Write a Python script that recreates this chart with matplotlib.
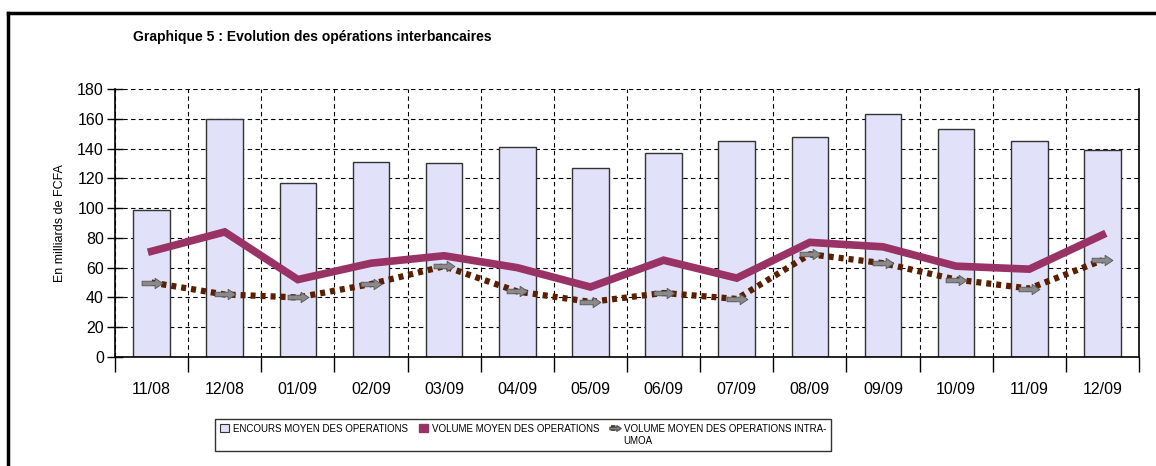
import matplotlib.pyplot as plt
import numpy as np
from matplotlib.patches import Patch
from matplotlib.lines import Line2D
from matplotlib.path import Path

plt.rcParams['font.family'] = ['Liberation Sans', 'DejaVu Sans']

# data
mois = ['11/08', '12/08', '01/09', '02/09', '03/09', '04/09', '05/09',
        '06/09', '07/09', '08/09', '09/09', '10/09', '11/09', '12/09']
encours = [99, 160, 117, 131, 130, 141, 127, 137, 145, 148, 163, 153, 145, 139]
volume = [71, 84, 52, 63, 68, 60, 47, 65, 53, 77, 74, 61, 59, 82]
volume_intra = [50, 42, 40, 49, 61, 44, 37, 43, 39, 69, 63, 52, 46, 65]

BAR_COL = '#e1e1f9'
VOL_COL = '#993366'
INTRA_COL = '#5a1e00'

# small gray arrow used as marker on the intra-UMOA line
arrow = Path([(-1, -0.22), (0.25, -0.22), (0.25, -0.5), (1, 0), (0.25, 0.5),
              (0.25, 0.22), (-1, 0.22), (-1, -0.22)],
             [Path.MOVETO] + [Path.LINETO] * 6 + [Path.CLOSEPOLY])

fig = plt.figure(figsize=(11.56, 4.66), dpi=100)
ax = fig.add_axes([115 / 1156, 1 - 357 / 466, 1024 / 1156, 268 / 466])

x = np.arange(len(mois))
ax.bar(x, encours, width=0.5, color=BAR_COL, edgecolor='#333333', linewidth=1, zorder=2)
ax.plot(x, volume, color=VOL_COL, linewidth=5.5, solid_joinstyle='miter', zorder=4)
ax.plot(x, volume_intra, color=INTRA_COL, linewidth=4.5, linestyle=(0, (0.8, 0.8)),
        marker=arrow, markersize=15, markerfacecolor='#8a8a8a', markeredgecolor='#555555',
        markeredgewidth=0.6, zorder=3)

ax.set_xlim(-0.5, len(mois) - 0.5)
ax.set_ylim(0, 180)
ax.set_yticks(range(0, 181, 20))
ax.set_xticks(x)
ax.set_xticklabels(mois)
ax.set_xticks(np.arange(-0.5, len(mois), 1), minor=True)
ax.tick_params(axis='x', which='major', length=0, pad=18, labelsize=11.5)
ax.tick_params(axis='x', which='minor', length=11, width=1, direction='out')
ax.tick_params(axis='y', length=12, width=1, direction='inout', labelsize=11.5, pad=2)
ax.grid(True, which='minor', axis='x', color='black', linestyle=(0, (4, 3)), linewidth=0.8, zorder=0)
ax.grid(True, which='major', axis='y', color='black', linestyle=(0, (4, 3)), linewidth=0.8, zorder=0)
ax.set_axisbelow(True)
ax.spines['top'].set_visible(False)
for s in ['left', 'bottom', 'right']:
    ax.spines[s].set_linewidth(1.2)
ax.set_ylabel('En milliards de FCFA', fontsize=9, labelpad=8)

fig.text(133 / 1156, 1 - 37 / 466, 'Graphique 5 : Evolution des opérations interbancaires',
         fontsize=10, fontweight='bold', va='center', ha='left')

# outer frame (top and left only)
fig.add_artist(Line2D([8 / 1156, 1], [1 - 13 / 466, 1 - 13 / 466], color='black', linewidth=2.5))
fig.add_artist(Line2D([8 / 1156, 8 / 1156], [0, 1 - 13 / 466], color='black', linewidth=2.5))

handles = [
    Patch(facecolor=BAR_COL, edgecolor='#333333', linewidth=0.8),
    Patch(facecolor=VOL_COL, edgecolor=VOL_COL),
    Line2D([], [], color=INTRA_COL, linewidth=4, linestyle=(0, (0.8, 0.8)),
           marker=arrow, markersize=8, markerfacecolor='#8a8a8a', markeredgecolor='#555555'),
]
labels = ['ENCOURS MOYEN DES OPERATIONS\n', 'VOLUME MOYEN DES OPERATIONS\n',
          'VOLUME MOYEN DES OPERATIONS INTRA-\nUMOA']
leg = fig.legend(handles, labels, ncol=3, loc='center', bbox_to_anchor=(523 / 1156, 1 - 435 / 466),
                 frameon=True, fancybox=False, edgecolor='black',
                 handlelength=0.9, handleheight=0.9, handletextpad=0.4, columnspacing=1.2,
                 borderpad=0.5, prop={'family': ['Liberation Sans Narrow', 'Liberation Sans'], 'size': 7})
leg.get_frame().set_linewidth(1)
# put the legend keys on the first text line
for col in leg._legend_handle_box.get_children():
    for entry in col.get_children():
        entry.align = 'top'

fig.savefig('out.png', dpi=100)
